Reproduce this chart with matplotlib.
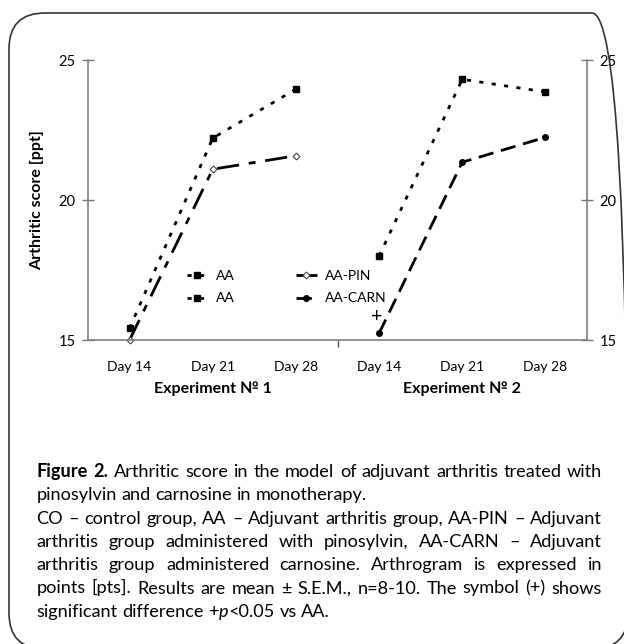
import re
import numpy as np
import matplotlib
matplotlib.use('Agg')
import matplotlib.pyplot as plt
from matplotlib.legend_handler import HandlerLine2D
from matplotlib.patches import FancyBboxPatch
from matplotlib.transforms import IdentityTransform, blended_transform_factory

plt.rcParams['font.family'] = ['Lato', 'DejaVu Sans']

# data
days = ['Day 14', 'Day 21', 'Day 28']
experiments = ['Experiment № 1', 'Experiment № 2']
aa_exp1 = [15.42, 22.21, 23.96]
pin_exp1 = [15.0, 21.10, 21.58]
aa_exp2 = [18.0, 24.31, 23.86]
carn_exp2 = [15.24, 21.35, 22.24]
sig_day = 3          # category index (Exp 2, Day 14)
sig_y = 15.85
yticks = [15, 20, 25]

caption = [
    ('**Figure 2.** Arthritic score in the model of adjuvant arthritis treated with', True),
    ('pinosylvin and carnosine in monotherapy.', False),
    ('CO – control group, AA – Adjuvant arthritis group, AA-PIN – Adjuvant', True),
    ('arthritis group administered with pinosylvin, AA-CARN – Adjuvant', True),
    ('arthritis group administered carnosine. Arthrogram is expressed in', True),
    ('points [pts]. Results are mean ± S.E.M., n=8-10. The symbol (+) shows', True),
    ('significant difference +*p*<0.05 vs AA.', False),
]


class EndMarker(HandlerLine2D):
    # excel style legend key: line with marker at its right end
    def get_xdata(self, legend, xdescent, ydescent, width, height, fontsize):
        return [-xdescent, -xdescent + width], [-xdescent + width]


W, H = 624, 644
fig = plt.figure(figsize=(W / 100, H / 100), dpi=100)
ax = fig.add_axes([88 / W, 1 - 340 / H, 499 / W, 280 / H])

x1 = np.arange(3) + 0.5
x2 = np.arange(3) + 3.5

aa_style = dict(color='black', lw=2.0, linestyle=(0, (1.5, 3.0)),
                marker='s', ms=5, clip_on=False)
l_aa1, = ax.plot(x1, aa_exp1, label='AA', **aa_style)
l_aa2, = ax.plot(x2, aa_exp2, label='AA', **aa_style)
l_pin, = ax.plot(x1, pin_exp1, color='black', lw=2.0,
                 linestyle=(0, (8, 3.5, 2.5, 3.5)), marker='D', ms=3.5,
                 mfc='white', mec='#444444', mew=0.8, clip_on=False,
                 label='AA-PIN')
l_carn, = ax.plot(x2, carn_exp2, color='black', lw=2.0,
                  linestyle=(0, (5.5, 2.8)), marker='o', ms=4,
                  clip_on=False, label='AA-CARN')

ax.text(sig_day + 0.47, sig_y, '+', ha='center', va='center', fontsize=14)

ax.set_xlim(0, 6)
ax.set_ylim(15, 25)
ax.set_xticks(np.arange(6) + 0.5)
ax.set_xticklabels(days * 2, fontsize=10)
ax.set_xticks([3], minor=True)
ax.tick_params(axis='x', which='major', length=0, pad=15)
ax.tick_params(axis='x', which='minor', length=5, width=1.0,
               color='#555555', direction='out')
ax.set_yticks(yticks)
ax.tick_params(axis='y', which='major', direction='inout', length=8,
               width=1.0, color='#777777', labelsize=10.5, pad=5,
               left=True, right=True, labelleft=True, labelright=True)

for s in ['left', 'right', 'bottom']:
    ax.spines[s].set_color('#7f7f7f')
    ax.spines[s].set_linewidth(1.2)
ax.spines['top'].set_visible(False)

ax.set_ylabel('Arthritic score [ppt]', fontsize=11.5, fontweight='bold',
              labelpad=10)

trans = blended_transform_factory(ax.transData, ax.transAxes)
for k, name in enumerate(experiments):
    ax.text(1.5 + 3 * k, -0.175, name, transform=trans, ha='center',
            va='center', fontsize=11.5, fontweight='bold')

leg = ax.legend(handles=[l_aa1, l_aa2, l_pin, l_carn], ncol=2,
                frameon=False, fontsize=10,
                handler_map={matplotlib.lines.Line2D: EndMarker()},
                handlelength=1.5, handletextpad=0.6, columnspacing=4.4,
                labelspacing=0.75, borderpad=0,
                loc='upper left', bbox_to_anchor=(180 / W, 1 - 263 / H),
                bbox_transform=fig.transFigure)

# rounded frame around figure + caption
frame = FancyBboxPatch((9, H - 649), 619, 636,
                       boxstyle='round,pad=0,rounding_size=36',
                       transform=IdentityTransform(), fill=False,
                       ec='#333333', lw=1.2, clip_on=False)
fig.patches.append(frame)


def parse(line):
    words = [[]]
    bold = italic = False
    for piece in re.split(r'(\*\*|\*)', line):
        if piece == '**':
            bold = not bold
            continue
        if piece == '*':
            italic = not italic
            continue
        for k, p in enumerate(piece.split(' ')):
            if k > 0:
                words.append([])
            if p:
                words[-1].append((p, bold, italic))
    return [w for w in words if w]


def seg_kw(bold, italic, size):
    return dict(fontsize=size, fontweight='bold' if bold else 'normal',
                fontstyle='italic' if italic else 'normal')


renderer = fig.canvas.get_renderer()


def width(s, bold, italic, size):
    t = fig.text(0, 0, s, **seg_kw(bold, italic, size))
    w = t.get_window_extent(renderer).width
    t.remove()
    return w


left, right = 36.5, 602
base0, dy = 477, 23.3

# pick the caption size so the widest line fits with plain spacing
ref_size = 10.0
sp = width('x x', False, False, ref_size) - width('xx', False, False, ref_size)
natural = []
for line, justify in caption:
    words = parse(line)
    natural.append(sum(width(s, b, it, ref_size) for w in words for s, b, it in w)
                   + sp * (len(words) - 1))
cap_size = ref_size * (right - left) / max(natural) * 0.99

space = width('x x', False, False, cap_size) - width('xx', False, False, cap_size)
for i, (line, justify) in enumerate(caption):
    words = parse(line)
    wl = [[width(s, b, it, cap_size) for s, b, it in w] for w in words]
    tot = sum(sum(w) for w in wl)
    gap = (right - left - tot) / (len(words) - 1) if justify else space
    x = left
    y = H - (base0 + i * dy)
    for w, ws in zip(words, wl):
        for (s, b, it), sw in zip(w, ws):
            fig.text(x, y, s, transform=IdentityTransform(), va='baseline',
                     ha='left', **seg_kw(b, it, cap_size))
            x += sw
        x += gap

fig.savefig('out.png', dpi=100)
